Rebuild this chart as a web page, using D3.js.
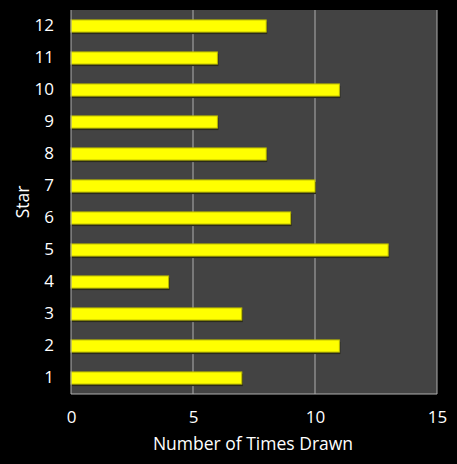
<!DOCTYPE html>
<html>
<head>
<meta charset="utf-8">
<script src="https://cdn.jsdelivr.net/npm/d3@7"></script>
<style>
	body { margin: 0; background: #000; }
	text { font-family: "Open Sans", "Noto Sans", sans-serif; }
</style>
</head>
<body>
<div id="chart"></div>
<script>
const stars = ["1", "2", "3", "4", "5", "6", "7", "8", "9", "10", "11", "12"];
const timesDrawn = [7, 11, 7, 4, 13, 9, 10, 8, 6, 11, 6, 8];
const xTicks = [0, 5, 10, 15];

const W = 457, H = 464;
const margin = { left: 71, top: 10, right: 20, bottom: 70 };
const pw = W - margin.left - margin.right;
const ph = H - margin.top - margin.bottom;

let svg = d3.select("#chart")
	.append("svg")
	.attr("width", W)
	.attr("height", H);

svg.append("rect")
	.attr("width", W)
	.attr("height", H)
	.attr("fill", "#000");

let x = d3.scaleLinear().domain([0, 15]).range([0, pw]);
let y = d3.scaleBand()
	.domain(stars.slice().reverse())
	.range([0, ph])
	.paddingInner(0.62)
	.paddingOuter(0.31);

let g = svg.append("g")
	.attr("transform", "translate(" + margin.left + "," + margin.top + ")");

g.append("rect")
	.attr("width", pw)
	.attr("height", ph)
	.attr("fill", "#434343");

// grid
g.selectAll(".grid")
	.data(xTicks.slice(1))
	.join("line")
	.attr("class", "grid")
	.attr("x1", d => x(d))
	.attr("x2", d => x(d))
	.attr("y1", 0)
	.attr("y2", ph)
	.attr("stroke", "#b0b0b0")
	.attr("stroke-width", 1);

// bar shadows
g.selectAll(".shadow")
	.data(stars)
	.join("rect")
	.attr("class", "shadow")
	.attr("x", 1)
	.attr("y", d => y(d) + 2)
	.attr("width", (d, i) => x(timesDrawn[i]))
	.attr("height", y.bandwidth())
	.attr("fill", "#2a2a1a");

g.selectAll(".bar")
	.data(stars)
	.join("rect")
	.attr("class", "bar")
	.attr("x", 0)
	.attr("y", d => y(d))
	.attr("width", (d, i) => x(timesDrawn[i]))
	.attr("height", y.bandwidth())
	.attr("fill", "#ffff00")
	.attr("stroke", "#b8b800")
	.attr("stroke-width", 1);

// axes lines
g.append("line")
	.attr("x1", 0).attr("x2", 0)
	.attr("y1", 0).attr("y2", ph)
	.attr("stroke", "#b0b0b0");
g.append("line")
	.attr("x1", 0).attr("x2", pw)
	.attr("y1", ph).attr("y2", ph)
	.attr("stroke", "#b0b0b0");

g.append("g")
	.attr("transform", "translate(0," + ph + ")")
	.call(d3.axisBottom(x).tickValues(xTicks).tickSize(0).tickPadding(17));
g.append("g")
	.call(d3.axisLeft(y).tickSize(0).tickPadding(17));

svg.selectAll(".domain").remove();
svg.selectAll(".tick text")
	.attr("fill", "#fff")
	.style("font-size", "17px")
	.style("font-family", "'Open Sans', 'Noto Sans', sans-serif");

svg.append("text")
	.text("Number of Times Drawn")
	.attr("x", margin.left + pw / 2 - 1)
	.attr("y", 450)
	.attr("text-anchor", "middle")
	.attr("fill", "#fff")
	.style("font-size", "17.5px");

svg.append("text")
	.text("Star")
	.attr("transform", "translate(29," + (margin.top + ph / 2) + ") rotate(-90)")
	.attr("text-anchor", "middle")
	.attr("fill", "#fff")
	.style("font-size", "17.5px");
</script>
</body>
</html>
